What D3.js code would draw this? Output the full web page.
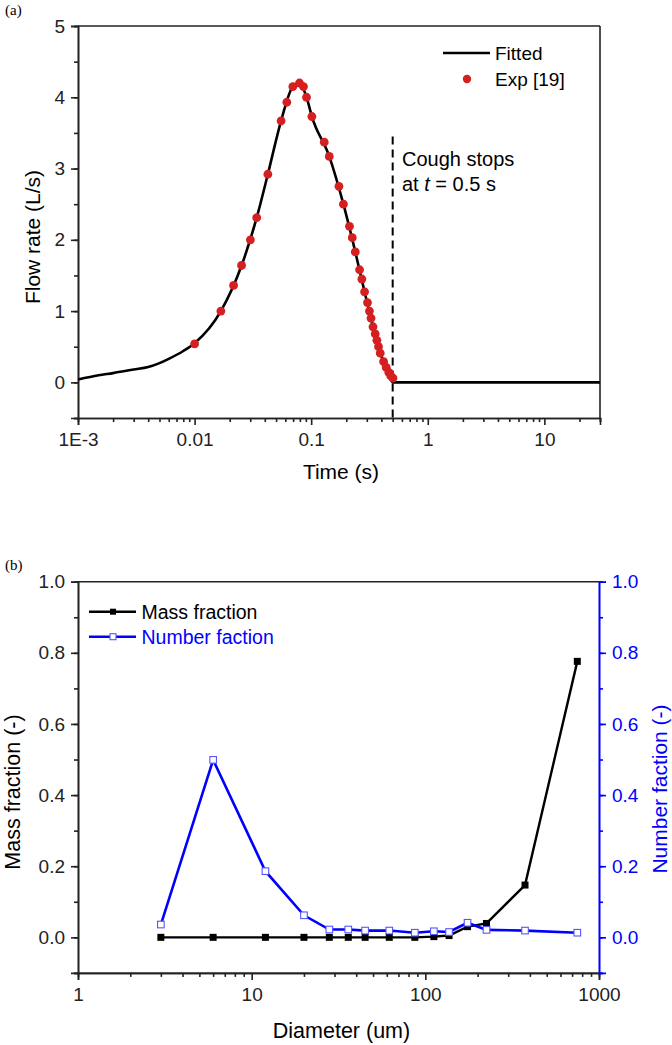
<!DOCTYPE html>
<html>
<head>
<meta charset="utf-8">
<script src="https://cdn.jsdelivr.net/npm/d3@7"></script>
<style>
  html, body { margin: 0; padding: 0; background: #fff; }
  svg { display: block; font-family: "Liberation Sans", Arial, sans-serif; }
</style>
</head>
<body>
<svg id="chart" width="672" height="1045"></svg>
<script>
// ---------- Panel (a) data ----------
const expTime = [0.01, 0.0168, 0.0216, 0.0253, 0.0301, 0.0341, 0.0425, 0.0552, 0.0618, 0.0696, 0.0794, 0.0859, 0.0912, 0.1014, 0.1294, 0.1429, 0.173, 0.189, 0.213, 0.225, 0.239, 0.26, 0.272, 0.287, 0.304, 0.316, 0.326, 0.339, 0.354, 0.366, 0.378, 0.391, 0.418, 0.44, 0.463, 0.482, 0.503];
const expFlow = [0.54, 1.0, 1.36, 1.64, 2.0, 2.31, 2.92, 3.67, 3.93, 4.15, 4.2, 4.15, 4.0, 3.73, 3.37, 3.17, 2.75, 2.5, 2.19, 2.03, 1.83, 1.58, 1.45, 1.27, 1.12, 1.0, 0.9, 0.78, 0.68, 0.59, 0.5, 0.41, 0.29, 0.21, 0.14, 0.09, 0.06];
const fitTime = [0.001, 0.0015, 0.002, 0.003, 0.004, 0.005, 0.006, 0.008, 0.01, 0.0168, 0.0253, 0.0341, 0.0425, 0.0552, 0.0696, 0.0794, 0.0912, 0.1014, 0.1429, 0.189, 0.239, 0.287, 0.339, 0.391, 0.44, 0.5, 1, 10, 30];
const fitFlow = [0.04, 0.1, 0.13, 0.18, 0.215, 0.27, 0.33, 0.44, 0.55, 1.0, 1.64, 2.31, 2.92, 3.67, 4.15, 4.2, 4.0, 3.73, 3.17, 2.5, 1.83, 1.27, 0.78, 0.41, 0.21, 0.0, 0, 0, 0];
const timeTicks = [0.001, 0.01, 0.1, 1, 10];
const timeTickLabels = ["1E-3", "0.01", "0.1", "1", "10"];
const flowTicks = [0, 1, 2, 3, 4, 5];
const coughStop = 0.5;

// ---------- Panel (b) data ----------
const diameter = [3, 6, 12, 20, 28, 36, 45, 62, 87, 112, 137, 175, 225, 375, 750];
const massFraction = [0, 0, 0, 0, 0, 0, 0, 0, 0, 0.002, 0.005, 0.03, 0.039, 0.147, 0.776];
const numberFraction = [0.036, 0.499, 0.186, 0.062, 0.022, 0.022, 0.019, 0.019, 0.013, 0.017, 0.015, 0.041, 0.021, 0.019, 0.013];
const diamTicks = [1, 10, 100, 1000];
const fracTicks = [0, 0.2, 0.4, 0.6, 0.8, 1.0];

const svg = d3.select("#chart");
const AX = "#222";
const BLUE = "#0000ff";
const RED = "#d42020";
const FONT = "Liberation Sans, Arial, sans-serif";

function minorLogTicks(lo, hi) {
  const out = [];
  for (let e = Math.floor(Math.log10(lo)); e <= Math.ceil(Math.log10(hi)); e++) {
    for (let m = 2; m <= 9; m++) {
      const v = m * Math.pow(10, e);
      if (v >= lo * 0.999 && v <= hi * 1.001) out.push(v);
    }
  }
  return out;
}
function styleAxis(g, color) {
  g.select(".domain").attr("stroke", color).attr("stroke-width", 1.6);
  g.selectAll(".tick line").attr("stroke", color).attr("stroke-width", 1.6);
  g.selectAll(".tick text").attr("fill", color).attr("font-family", FONT);
}

// ================= Panel (a) =================
{
  const L = 78, R = 600, T = 26, B = 418;
  const x = d3.scaleLog().domain([1e-3, 30]).range([L, R]);
  const y = d3.scaleLinear().domain([-0.5, 5]).range([B, T]);
  const g = svg.append("g");

  // frame top/right
  g.append("line").attr("x1", L).attr("x2", R).attr("y1", T).attr("y2", T).attr("stroke", AX).attr("stroke-width", 1.6);
  g.append("line").attr("x1", R).attr("x2", R).attr("y1", T).attr("y2", B).attr("stroke", AX).attr("stroke-width", 1.6);

  // x axis
  const xMinor = g.append("g").attr("transform", `translate(0,${B})`)
    .call(d3.axisBottom(x).tickValues(minorLogTicks(1e-3, 30)).tickSize(4).tickFormat(""));
  styleAxis(xMinor, AX);
  const xMajor = g.append("g").attr("transform", `translate(0,${B})`)
    .call(d3.axisBottom(x).tickValues(timeTicks).tickSize(7).tickPadding(8)
      .tickFormat((d, i) => timeTickLabels[i]));
  styleAxis(xMajor, AX);
  xMajor.selectAll(".tick text").attr("font-size", 19);

  // y axis
  const yMinor = g.append("g").attr("transform", `translate(${L},0)`)
    .call(d3.axisLeft(y).tickValues(d3.range(-0.5, 5.01, 0.5)).tickSize(4).tickFormat(""));
  styleAxis(yMinor, AX);
  const yMajor = g.append("g").attr("transform", `translate(${L},0)`)
    .call(d3.axisLeft(y).tickValues(flowTicks).tickSize(7).tickPadding(6).tickFormat(d3.format("d")));
  styleAxis(yMajor, AX);
  yMajor.selectAll(".tick text").attr("font-size", 19);

  // dashed line at cough stop
  g.append("line").attr("x1", x(coughStop)).attr("x2", x(coughStop))
    .attr("y1", y(3.45)).attr("y2", y(-0.5))
    .attr("stroke", "#000").attr("stroke-width", 2).attr("stroke-dasharray", "8,5");

  // fitted line
  const line = d3.line().x(d => x(d[0])).y(d => y(d[1])).curve(d3.curveMonotoneX);
  g.append("path").datum(fitTime.map((t, i) => [t, fitFlow[i]]))
    .attr("d", line).attr("fill", "none").attr("stroke", "#000").attr("stroke-width", 2.6);

  // experimental points
  g.selectAll("circle.exp").data(expTime.map((t, i) => [t, expFlow[i]])).enter()
    .append("circle").attr("class", "exp")
    .attr("cx", d => x(d[0])).attr("cy", d => y(d[1])).attr("r", 4.4).attr("fill", RED);

  // legend
  g.append("line").attr("x1", 443).attr("x2", 490).attr("y1", 53).attr("y2", 53).attr("stroke", "#000").attr("stroke-width", 2.6);
  g.append("text").attr("x", 495).attr("y", 60).attr("font-size", 19).attr("font-family", FONT).text("Fitted");
  g.append("circle").attr("cx", 467).attr("cy", 79).attr("r", 4.2).attr("fill", RED);
  g.append("text").attr("x", 495).attr("y", 86).attr("font-size", 19).attr("font-family", FONT).text("Exp [19]");

  // annotation
  g.append("text").attr("x", 402).attr("y", 166).attr("font-size", 20).attr("font-family", FONT).text("Cough stops");
  const t2 = g.append("text").attr("x", 402).attr("y", 191).attr("font-size", 20).attr("font-family", FONT);
  t2.append("tspan").text("at ");
  t2.append("tspan").attr("font-style", "italic").text("t");
  t2.append("tspan").text(" = 0.5 s");

  // axis titles
  g.append("text").attr("x", (L + R) / 2 + 2).attr("y", 479).attr("text-anchor", "middle")
    .attr("font-size", 21).attr("font-family", FONT).text("Time (s)");
  g.append("text").attr("transform", `translate(39.5,237) rotate(-90)`).attr("text-anchor", "middle")
    .attr("font-size", 21).attr("font-family", FONT).text("Flow rate (L/s)");

  g.append("text").attr("x", 5).attr("y", 15).attr("font-size", 15)
    .attr("font-family", "Liberation Serif, Times New Roman, serif").text("(a)");
}

// ================= Panel (b) =================
{
  const L = 78, R = 599, T = 581.7, B = 972.9;
  const x = d3.scaleLog().domain([1, 1000]).range([L, R]);
  const y = d3.scaleLinear().domain([-0.1, 1.0]).range([B, T]);
  const g = svg.append("g");

  g.append("line").attr("x1", L).attr("x2", R).attr("y1", T).attr("y2", T).attr("stroke", AX).attr("stroke-width", 1.6);

  const xMinor = g.append("g").attr("transform", `translate(0,${B})`)
    .call(d3.axisBottom(x).tickValues(minorLogTicks(1, 1000)).tickSize(4).tickFormat(""));
  styleAxis(xMinor, AX);
  const xMajor = g.append("g").attr("transform", `translate(0,${B})`)
    .call(d3.axisBottom(x).tickValues(diamTicks).tickSize(7).tickPadding(8).tickFormat(d3.format("d")));
  styleAxis(xMajor, AX);
  xMajor.selectAll(".tick text").attr("font-size", 19);

  const minorY = d3.range(-0.1, 1.001, 0.1);
  const yMinor = g.append("g").attr("transform", `translate(${L},0)`)
    .call(d3.axisLeft(y).tickValues(minorY).tickSize(4).tickFormat(""));
  styleAxis(yMinor, AX);
  const yMajor = g.append("g").attr("transform", `translate(${L},0)`)
    .call(d3.axisLeft(y).tickValues(fracTicks).tickSize(7).tickPadding(6).tickFormat(d3.format(".1f")));
  styleAxis(yMajor, AX);
  yMajor.selectAll(".tick text").attr("font-size", 19);

  const y2 = d3.scaleLinear().domain([-0.1, 1.0]).range([B, T]);
  const rMinor = g.append("g").attr("transform", `translate(${R},0)`)
    .call(d3.axisRight(y2).tickValues(minorY).tickSize(4).tickFormat(""));
  styleAxis(rMinor, BLUE);
  const rMajor = g.append("g").attr("transform", `translate(${R},0)`)
    .call(d3.axisRight(y2).tickValues(fracTicks).tickSize(7).tickPadding(6).tickFormat(d3.format(".1f")));
  styleAxis(rMajor, BLUE);
  rMajor.selectAll(".tick text").attr("font-size", 19);

  const line = d3.line().x(d => x(d[0])).y(d => y(d[1]));
  const line2 = d3.line().x(d => x(d[0])).y(d => y2(d[1]));

  // mass fraction
  g.append("path").datum(diameter.map((d, i) => [d, massFraction[i]]))
    .attr("d", line).attr("fill", "none").attr("stroke", "#000").attr("stroke-width", 2.4);
  g.selectAll("rect.mass").data(diameter.map((d, i) => [d, massFraction[i]])).enter()
    .append("rect").attr("class", "mass")
    .attr("x", d => x(d[0]) - 3.5).attr("y", d => y(d[1]) - 3.5)
    .attr("width", 7).attr("height", 7).attr("fill", "#000");

  // number fraction
  g.append("path").datum(diameter.map((d, i) => [d, numberFraction[i]]))
    .attr("d", line2).attr("fill", "none").attr("stroke", BLUE).attr("stroke-width", 2.6);
  g.selectAll("rect.num").data(diameter.map((d, i) => [d, numberFraction[i]])).enter()
    .append("rect").attr("class", "num")
    .attr("x", d => x(d[0]) - 3.3).attr("y", d => y2(d[1]) - 3.3)
    .attr("width", 6.6).attr("height", 6.6).attr("fill", "#fff")
    .attr("stroke", "#5555ff").attr("stroke-width", 1.1);

  // legend
  g.append("line").attr("x1", 89).attr("x2", 136).attr("y1", 611.7).attr("y2", 611.7).attr("stroke", "#000").attr("stroke-width", 2.4);
  g.append("rect").attr("x", 113 - 3).attr("y", 611.7 - 3).attr("width", 6).attr("height", 6).attr("fill", "#000");
  g.append("text").attr("x", 141.5).attr("y", 618.5).attr("font-size", 19.5).attr("font-family", FONT).text("Mass fraction");
  g.append("line").attr("x1", 89).attr("x2", 136).attr("y1", 636.7).attr("y2", 636.7).attr("stroke", BLUE).attr("stroke-width", 2.6);
  g.append("rect").attr("x", 113 - 3).attr("y", 636.7 - 3).attr("width", 6).attr("height", 6).attr("fill", "#fff").attr("stroke", "#5555ff").attr("stroke-width", 1.1);
  g.append("text").attr("x", 141.5).attr("y", 643.5).attr("font-size", 19.5).attr("font-family", FONT).attr("fill", BLUE).text("Number faction");

  // titles
  g.append("text").attr("x", (L + R) / 2 + 3).attr("y", 1038).attr("text-anchor", "middle")
    .attr("font-size", 21.5).attr("font-family", FONT).text("Diameter (um)");
  g.append("text").attr("transform", `translate(19.5,792) rotate(-90)`).attr("text-anchor", "middle")
    .attr("font-size", 21.5).attr("font-family", FONT).text("Mass fraction (-)");
  g.append("text").attr("transform", `translate(667,789) rotate(-90)`).attr("text-anchor", "middle")
    .attr("font-size", 21).attr("font-family", FONT).attr("fill", BLUE).text("Number faction (-)");

  g.append("text").attr("x", 5).attr("y", 570).attr("font-size", 15)
    .attr("font-family", "Liberation Serif, Times New Roman, serif").text("(b)");
}
</script>
</body>
</html>
